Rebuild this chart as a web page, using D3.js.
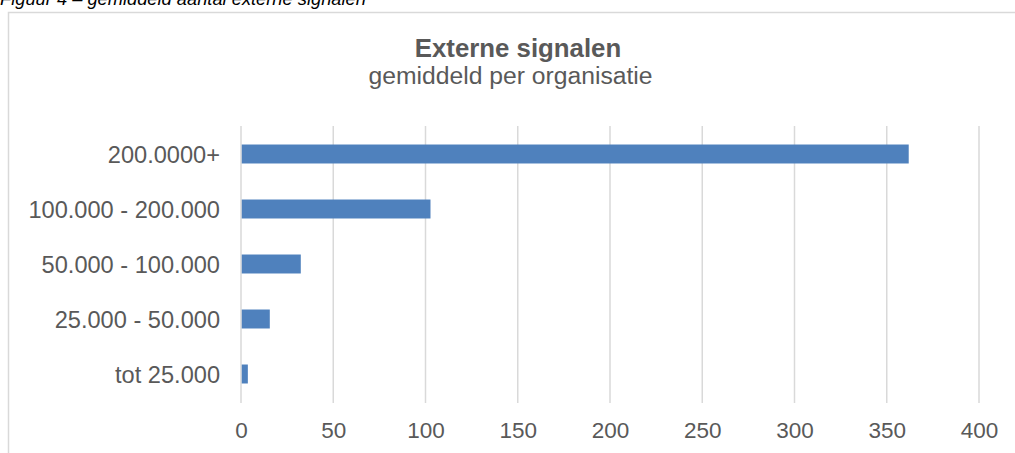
<!DOCTYPE html>
<html><head><meta charset="utf-8">
<script src="https://cdn.jsdelivr.net/npm/d3@7"></script>
<style>body{margin:0;background:#fff;overflow:hidden}svg{display:block}text{font-family:"Liberation Sans",Arial,sans-serif}</style>
</head><body>
<script>
const categories = ["200.0000+", "100.000 - 200.000", "50.000 - 100.000", "25.000 - 50.000", "tot 25.000"];
const values = [361.5, 102.3, 32, 15.2, 3.3];
const xTicks = [0, 50, 100, 150, 200, 250, 300, 350, 400];
const caption = "Figuur 4 – gemiddeld aantal externe signalen";
const title = "Externe signalen";
const subtitle = "gemiddeld per organisatie";

const W = 1015, H = 453;
const svg = d3.select("body").append("svg").attr("width", W).attr("height", H);

svg.append("text").attr("x", 0).attr("y", 5).attr("font-size", 18.3).attr("font-style", "italic").attr("fill", "#000").text(caption);

svg.append("rect").attr("x", 8.5).attr("y", 12.5).attr("width", 1020).attr("height", 460)
  .attr("fill", "none").attr("stroke", "#d9d9d9").attr("stroke-width", 1.5);

svg.append("text").attr("x", 518).attr("y", 57).attr("text-anchor", "middle").attr("font-size", 25.8).attr("font-weight", "bold").attr("fill", "#595959").text(title);
svg.append("text").attr("x", 510.5).attr("y", 84).attr("text-anchor", "middle").attr("font-size", 24.7).attr("fill", "#595959").text(subtitle);

const x = d3.scaleLinear().domain([0, 400]).range([241, 979]);
const y = d3.scaleBand().domain(categories).range([126.5, 401.5]).paddingInner(0.655).paddingOuter(0.3275);

const grid = svg.append("g");
grid.selectAll("line").data(xTicks).join("line")
  .attr("x1", d => x(d)).attr("x2", d => x(d)).attr("y1", 126).attr("y2", 403)
  .attr("stroke", "#d9d9d9").attr("stroke-width", 1.5);

svg.append("g").selectAll("rect").data(values).join("rect")
  .attr("x", x(0) + 0.75).attr("y", (d, i) => y(categories[i]))
  .attr("width", d => x(d) - x(0)).attr("height", y.bandwidth())
  .attr("fill", "#4f81bd");

const yAxis = svg.append("g").attr("transform", `translate(${x(0) - 21},0)`)
  .call(d3.axisLeft(y).tickSize(0).tickPadding(0));
yAxis.select(".domain").remove();
yAxis.selectAll("text").attr("font-size", 23.6).attr("fill", "#595959").attr("font-family", "Liberation Sans, Arial, sans-serif").attr("dy", "0.36em");

const xAxis = svg.append("g").attr("transform", "translate(0,438)")
  .call(d3.axisBottom(x).tickValues(xTicks).tickSize(0).tickPadding(0));
xAxis.select(".domain").remove();
xAxis.selectAll("text").attr("font-size", 22.5).attr("fill", "#595959").attr("font-family", "Liberation Sans, Arial, sans-serif").attr("y", 0).attr("dy", 0);
</script>
</body></html>
